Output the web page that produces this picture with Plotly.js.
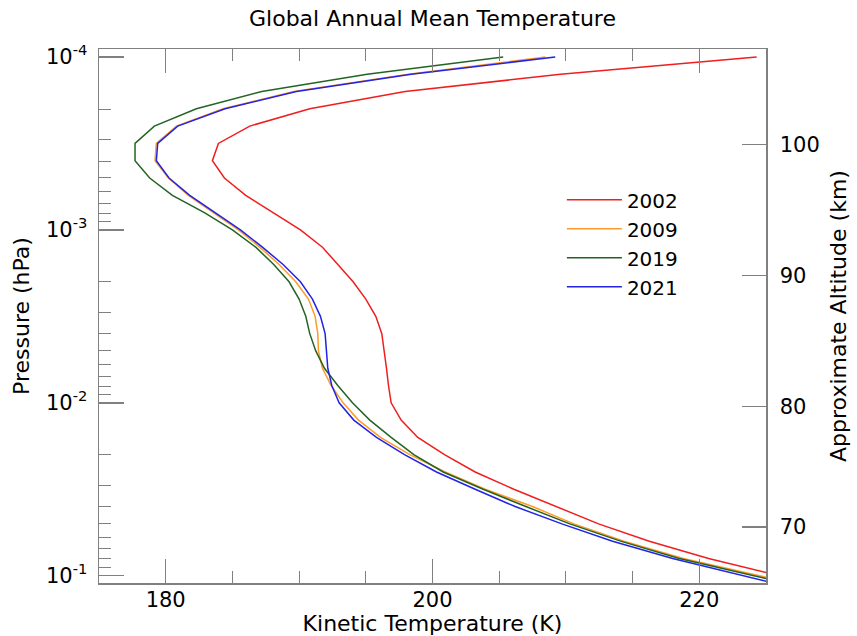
<!DOCTYPE html>
<html><head><meta charset="utf-8">
<script src="https://cdn.plot.ly/plotly-3.0.1.min.js"></script>
<style>html,body{margin:0;padding:0;background:#fff}</style>
</head><body><div id="chart" style="width:857px;height:636px"></div>
<script>
// Pressure levels (hPa)
const pressure = [1.000e-4, 1.259e-4, 1.585e-4, 1.995e-4, 2.512e-4, 3.162e-4, 3.981e-4, 5.012e-4,
  6.310e-4, 7.943e-4, 1.000e-3, 1.259e-3, 1.585e-3, 1.995e-3, 2.512e-3, 3.162e-3,
  3.981e-3, 5.012e-3, 6.310e-3, 7.943e-3, 1.000e-2, 1.259e-2, 1.585e-2, 1.995e-2,
  2.512e-2, 3.162e-2, 3.981e-2, 5.012e-2, 6.310e-2, 7.943e-2, 1.000e-1, 1.259e-1];
// Kinetic temperature (K)
const t2002 = [224.3, 209.6, 197.95, 190.8, 186.3, 183.95, 183.5, 184.4, 186.0, 188.0, 190.1, 191.75,
  192.9, 194.05, 195.0, 195.75, 196.2, 196.4, 196.55, 196.7, 196.9, 197.65, 198.9, 200.9,
  203.2, 206.1, 209.3, 212.45, 216.25, 220.7, 226.0, 231.5];
const t2009 = [208.45, 198.2, 189.6, 184.3, 180.8, 179.3, 179.2, 180.2, 181.7, 183.6, 185.45, 187.05,
  188.5, 189.75, 190.7, 191.2, 191.4, 191.45, 191.75, 192.4, 193.3, 194.45, 196.1, 198.3,
  200.95, 203.95, 207.5, 210.6, 214.35, 218.8, 224.6, 230.2];
const t2019 = [205.3, 195.1, 187.2, 182.3, 179.15, 177.7, 177.7, 178.8, 180.5, 182.9, 185.0, 186.75,
  188.1, 189.25, 190.0, 190.5, 190.8, 191.25, 191.9, 192.9, 194.0, 195.3, 196.9, 198.6,
  200.8, 203.8, 207.0, 210.3, 214.1, 218.5, 224.1, 229.6];
const t2021 = [209.2, 198.4, 189.8, 184.45, 180.9, 179.4, 179.3, 180.25, 181.8, 183.75, 185.6, 187.25,
  188.8, 190.1, 191.0, 191.6, 191.95, 192.05, 192.15, 192.45, 193.0, 194.1, 195.8, 197.9,
  200.3, 203.2, 206.2, 209.7, 213.5, 218.0, 223.3, 228.6];
const years = ['2002', '2009', '2019', '2021'];
const seriesT = [t2002, t2009, t2019, t2021];
const colors = ['rgb(240,30,30)', 'rgb(255,155,40)', 'rgb(35,100,35)', 'rgb(35,35,230)'];

// Axis ticks
const xTickVals = [180, 200, 220];
const yTickVals = [1e-4, 1e-3, 1e-2, 1e-1];
const yTickText = ['10<sup>-4</sup>', '10<sup>-3</sup>', '10<sup>-2</sup>', '10<sup>-1</sup>'];
const altTickText = ['100', '90', '80', '70'];
const altTickPressure = [3.213e-4, 1.830e-3, 1.050e-2, 5.21e-2];

const yMinor = [];
for (let d = -5; d <= -1; d++) {
  for (let m = 2; m <= 9; m++) yMinor.push(m * Math.pow(10, d));
}

const tickFont = {family: 'DejaVu Sans', size: 21, color: '#000'};
const titleFont = {family: 'DejaVu Sans', size: 22, color: '#000'};
const legendFont = {family: 'DejaVu Sans', size: 20, color: '#000'};
const axisColor = '#808080';
const yRange = [-0.958, -4.046];

// last series drawn on the (identical) altitude axis so that axis is rendered
const traces = years.map((yr, i) => ({
  x: seriesT[i], y: pressure, type: 'scatter', mode: 'lines', name: yr,
  yaxis: i === years.length - 1 ? 'y2' : 'y',
  line: {color: colors[i], width: 1.5}
}));

const layout = {
  width: 857, height: 636,
  margin: {l: 99, r: 91, t: 49, b: 53},
  paper_bgcolor: '#fff', plot_bgcolor: '#fff',
  font: tickFont,
  showlegend: true,
  title: {text: 'Global Annual Mean Temperature', font: titleFont, x: 0.5, xref: 'paper',
          y: 1 - 18 / 636, yref: 'container', yanchor: 'middle'},
  xaxis: {
    range: [175, 225], autorange: false,
    tickmode: 'array', tickvals: xTickVals,
    ticks: 'inside', ticklen: 24, tickwidth: 1.5, tickcolor: axisColor,
    minor: {dtick: 5, tick0: 175, ticks: 'inside', ticklen: 12, tickwidth: 1, tickcolor: axisColor, showgrid: false},
    showline: true, linecolor: axisColor, linewidth: 1.5, mirror: 'ticks',
    showgrid: false, zeroline: false,
    tickfont: tickFont, ticklabelstandoff: -3,
    title: {text: 'Kinetic Temperature (K)', font: titleFont, standoff: 3}
  },
  yaxis: {
    type: 'log', range: yRange, autorange: false,
    tickmode: 'array', tickvals: yTickVals, ticktext: yTickText,
    ticks: 'inside', ticklen: 25, tickwidth: 1.5, tickcolor: axisColor,
    minor: {tickmode: 'array', tickvals: yMinor, ticks: 'inside', ticklen: 12, tickwidth: 1, tickcolor: axisColor, showgrid: false},
    showline: true, linecolor: axisColor, linewidth: 1.5,
    showgrid: false, zeroline: false,
    tickfont: tickFont, ticklabelstandoff: 6,
    title: {text: 'Pressure (hPa)', font: titleFont, standoff: 10}
  },
  yaxis2: {
    type: 'log', range: yRange, autorange: false,
    overlaying: 'y', side: 'right', anchor: 'x',
    tickmode: 'array', tickvals: altTickPressure, ticktext: altTickText,
    ticks: 'inside', ticklen: 24, tickwidth: 1.5, tickcolor: axisColor,
    showline: true, linecolor: axisColor, linewidth: 1.5,
    showgrid: false, zeroline: false,
    tickfont: tickFont, ticklabelstandoff: 8,
    title: {text: 'Approximate Altitude (km)', font: titleFont, standoff: 12}
  },
  legend: {
    x: 0.694, xanchor: 'left', y: 0.754, yanchor: 'top',
    font: legendFont, bgcolor: 'rgba(0,0,0,0)', borderwidth: 0,
    itemwidth: 55, tracegroupgap: 0
  }
};

Plotly.newPlot('chart', traces, layout, {displayModeBar: false, staticPlot: true});
</script>
</body></html>
